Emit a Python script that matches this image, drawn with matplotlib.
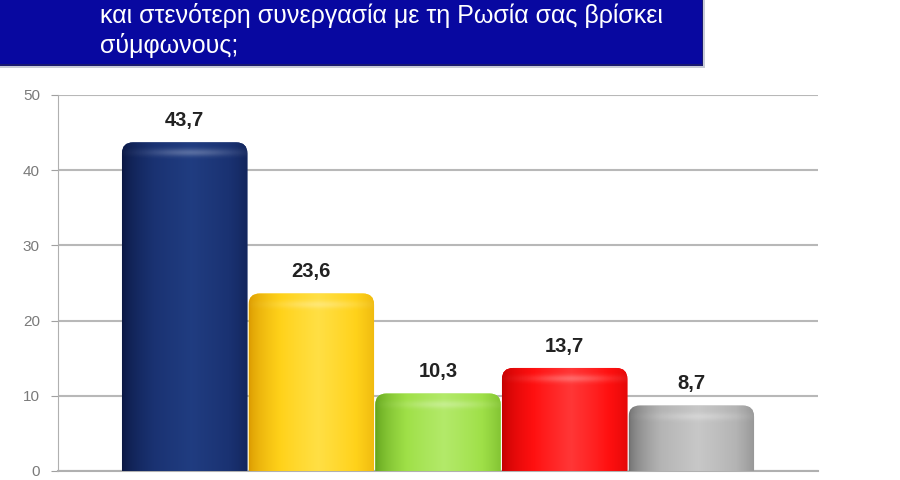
import numpy as np
import matplotlib.pyplot as plt
from matplotlib.patches import FancyBboxPatch, Rectangle
from matplotlib.colors import LinearSegmentedColormap

plt.rcParams['font.family'] = ['Liberation Sans', 'DejaVu Sans']

# data
categories = ['A', 'B', 'C', 'D', 'E']
values = [43.7, 23.6, 10.3, 13.7, 8.7]
value_labels = ['43,7', '23,6', '10,3', '13,7', '8,7']
yticks = [0, 10, 20, 30, 40, 50]
title_lines = ['και στενότερη συνεργασία με τη Ρωσία σας βρίσκει', 'σύμφωνους;']

# edge / mid / highlight colours for the cylinder look
shades = [
    ('#0a1640', '#1a3272', '#24438a'),
    ('#d99800', '#ffd21a', '#ffe860'),
    ('#5e9e18', '#9fe048', '#c0f080'),
    ('#c00000', '#ff1010', '#ff5050'),
    ('#6e6e6e', '#b4b4b4', '#d4d4d4'),
]

fig = plt.figure(figsize=(9, 4.8), dpi=100)
fig.patch.set_facecolor('white')

# title banner with a soft shadow underneath
fig.patches.append(Rectangle((0, 1 - 68 / 480), 705 / 900, 68 / 480,
                             transform=fig.transFigure, facecolor='#c8ccd8',
                             edgecolor='none', zorder=0))
fig.patches.append(Rectangle((0, 1 - 66 / 480), 703 / 900, 66 / 480,
                             transform=fig.transFigure, facecolor='#1a1a70',
                             edgecolor='none', zorder=1))
fig.patches.append(Rectangle((0, 1 - 64 / 480), 702 / 900, 64 / 480,
                             transform=fig.transFigure, facecolor='#0808a0',
                             edgecolor='none', zorder=2))
fig.text(100 / 900, 1 - 15 / 480, title_lines[0], color='white', fontsize=18,
         va='center', ha='left')
fig.text(100 / 900, 1 - 46 / 480, title_lines[1], color='white', fontsize=18,
         va='center', ha='left')

ax = fig.add_axes([58 / 900, 9 / 480, 760 / 900, 376 / 480])
x = np.arange(len(categories))
width = 0.99
ax.set_xlim(-1.0, 5.0)
ax.set_ylim(0, 50)
ax.set_yticks(yticks)
ax.set_yticklabels([str(t) for t in yticks], color='#7a7a7a', fontsize=11)
ax.set_xticks([])
ax.tick_params(axis='y', length=5, color='#a0a0a0', pad=8)
ax.grid(axis='y', color='#b8b8b8', linewidth=1.5)
ax.set_axisbelow(True)
for s in ['top', 'right']:
    ax.spines[s].set_visible(False)
ax.spines['left'].set_color('#b0b0b0')
ax.spines['bottom'].set_color('#b0b0b0')
ax.spines['bottom'].set_linewidth(1.5)

# pixel scale for rounded tops
px_x = 760 / 6.0
px_y = 376 / 50.0
r_px = 11
rx = r_px / px_x
aspect = (r_px / px_y) / rx

grad = np.linspace(0, 1, 256)
prof = np.clip(1 - np.abs(grad - 0.55) / 0.55, 0, 1) ** 0.6

for i, (xi, v) in enumerate(zip(x, values)):
    edge, mid, hi = shades[i]
    cmap = LinearSegmentedColormap.from_list('c%d' % i, [edge, mid, hi])
    left = xi - width / 2
    patch = FancyBboxPatch((left, -3), width, v + 3,
                           boxstyle='round,pad=0,rounding_size=%f' % rx,
                           mutation_aspect=aspect, facecolor=mid,
                           edgecolor='none', zorder=2)
    ax.add_patch(patch)
    img = ax.imshow(prof[np.newaxis, :] * 0.8, cmap=cmap, vmin=0, vmax=1,
                    extent=[left, left + width, 0, v], aspect='auto',
                    zorder=3, interpolation='bicubic')
    img.set_clip_path(patch)
    # soft highlight band just under the top
    top_h = 26 / px_y
    band = np.linspace(0, 1, 64)[:, np.newaxis]
    alpha = np.exp(-((band - 0.6) / 0.15) ** 2) * 0.25
    alpha = alpha * np.exp(-((np.linspace(0, 1, 64)[np.newaxis, :] - 0.55) / 0.35) ** 2)
    rgba = np.ones((64, 64, 4))
    rgba[..., 3] = alpha
    hl = ax.imshow(rgba, extent=[left, left + width, v - top_h, v],
                   aspect='auto', zorder=4, origin='lower')
    hl.set_clip_path(patch)
    ax.text(xi, v + 2.9, value_labels[i], ha='center', va='center',
            fontsize=14.5, fontweight='bold', color='#222222', zorder=5)

ax.set_xlim(-1.0, 5.0)
ax.set_ylim(0, 50)

fig.savefig('out.png', dpi=100)
